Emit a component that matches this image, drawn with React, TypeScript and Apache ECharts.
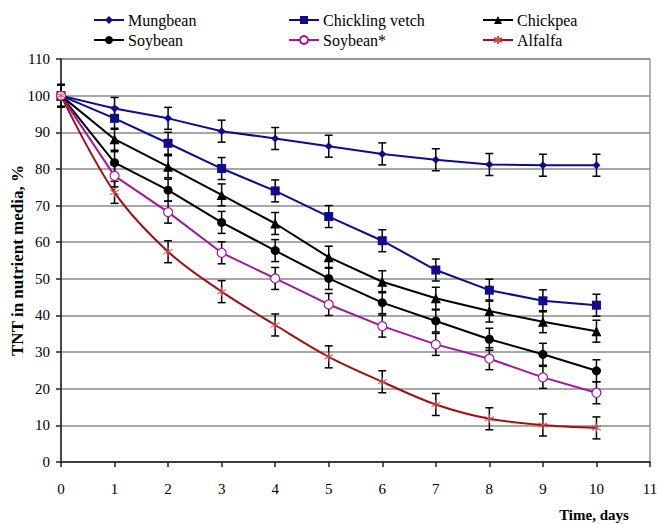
import React, { useEffect, useRef } from "react";
import * as echarts from "echarts";

const days = [0, 1, 2, 3, 4, 5, 6, 7, 8, 9, 10];
const xTicks = [0, 1, 2, 3, 4, 5, 6, 7, 8, 9, 10, 11];

const mungbean = [100, 96.5, 93.8, 90.3, 88.3, 86.2, 84.1, 82.5, 81.2, 81.0, 81.0];
const chicklingVetch = [100, 93.8, 87.0, 80.1, 74.0, 67.0, 60.4, 52.4, 46.9, 44.0, 42.8];
const chickpea = [100, 88.1, 80.6, 72.9, 65.1, 55.9, 49.2, 44.7, 41.2, 38.3, 35.7];
const soybean = [100, 81.7, 74.2, 65.4, 57.7, 50.1, 43.5, 38.5, 33.5, 29.4, 24.9];
const soybeanStar = [100, 78.1, 68.2, 57.1, 50.1, 43.0, 37.1, 32.1, 28.2, 23.1, 18.9];
const alfalfa = [100, 73.6, 57.4, 46.5, 37.4, 28.7, 21.9, 15.7, 11.8, 10.1, 9.3];

const errMungbean = [3, 3, 3, 3, 3, 3, 3, 3, 3, 3, 3];
const errChickling = [3, 3, 3, 3, 3, 3, 3, 3, 3, 3, 3];
const errChickpea = [3, 3, 3, 3, 3, 3, 3, 3, 3, 3, 3];
const errSoybean = [3, 3, 3, 3, 3, 3, 3, 3, 3, 3, 3];
const errSoybeanStar = [3, 3, 3, 3, 3, 3, 3, 3, 3, 3, 3];
const errAlfalfa = [3, 3, 3, 3, 3, 3, 3, 3, 3, 3, 3];

const NAVY = "#0c0c8c";
const BLACK = "#000000";
const PURPLE = "#a0189e";
const DARKRED = "#a01010";
const FONT = "'Liberation Serif', 'Times New Roman', serif";

const ASTERISK = "path://M0,-5L0,5M-4.3,-2.5L4.3,2.5M-4.3,2.5L4.3,-2.5";

export default function App() {
  const ref = useRef<HTMLDivElement>(null);

  useEffect(() => {
    document.body.style.margin = "0";
    const chart = echarts.init(ref.current!, null, { renderer: "svg" });

    const errSeries = (vals: number[], errs: number[]) => ({
      type: "custom",
      silent: true,
      z: 1,
      data: days.map((d, i) => [d, vals[i] - errs[i], vals[i] + errs[i]]),
      encode: { x: 0, y: [1, 2] },
      renderItem: (params: any, api: any) => {
        const x = api.value(0);
        const lo = api.coord([x, api.value(1)]);
        const hi = api.coord([x, api.value(2)]);
        const w = 4;
        const st = { stroke: "#000", lineWidth: 1.5 };
        return {
          type: "group",
          children: [
            { type: "line", shape: { x1: lo[0], y1: lo[1], x2: hi[0], y2: hi[1] }, style: st },
            { type: "line", shape: { x1: lo[0] - w, y1: lo[1], x2: lo[0] + w, y2: lo[1] }, style: st },
            { type: "line", shape: { x1: hi[0] - w, y1: hi[1], x2: hi[0] + w, y2: hi[1] }, style: st },
          ],
        };
      },
    });

    const lineSeries = (
      name: string,
      vals: number[],
      color: string,
      symbol: string,
      symbolSize: number,
      extra: any = {}
    ) => ({
      name,
      type: "line",
      z: 3,
      data: days.map((d, i) => [d, vals[i]]),
      symbol,
      symbolSize,
      lineStyle: { color, width: 2 },
      itemStyle: { color, borderColor: color, borderWidth: 0 },
      ...extra,
    });

    const legendCommon = {
      orient: "vertical",
      top: 12,
      padding: 0,
      itemWidth: 30,
      itemHeight: 10,
      itemGap: 4,
      selectedMode: false,
      textStyle: { fontFamily: FONT, fontSize: 16, color: "#000", padding: [0, 0, 0, -1] },
    };

    chart.setOption({
      animation: false,
      backgroundColor: "#fff",
      legend: [
        { ...legendCommon, left: 93, data: ["Mungbean", "Soybean"] },
        { ...legendCommon, left: 288, data: ["Chickling vetch", "Soybean*"] },
        { ...legendCommon, left: 482, data: ["Chickpea", "Alfalfa"] },
      ],
      grid: {
        left: 61,
        right: 7,
        top: 59,
        bottom: 62,
        show: true,
        borderColor: "#9a9a9a",
        borderWidth: 1.5,
        containLabel: false,
        outerBoundsMode: "none",
      },
      xAxis: {
        type: "value",
        min: 0,
        max: 11,
        interval: 1,
        axisLine: { lineStyle: { color: "#222", width: 1.5 } },
        axisTick: { show: true, length: 5, lineStyle: { color: "#222", width: 1.5 } },
        axisLabel: {
          margin: 19,
          fontFamily: FONT,
          fontSize: 15,
          color: "#000",
          formatter: (v: number) => (xTicks.includes(v) ? String(v) : ""),
        },
        splitLine: { show: false },
      },
      yAxis: {
        type: "value",
        min: 0,
        max: 110,
        interval: 10,
        name: "TNT in nutrient media, %",
        nameLocation: "middle",
        nameGap: 35,
        nameMoveOverlap: false,
        nameTextStyle: { fontFamily: FONT, fontSize: 17, fontWeight: "bold", color: "#000" },
        axisLine: { show: true, lineStyle: { color: "#222", width: 1.5 } },
        axisTick: { show: true, length: 5, lineStyle: { color: "#222", width: 1.5 } },
        axisLabel: { margin: 11, fontFamily: FONT, fontSize: 15, color: "#000" },
        splitLine: { show: true, lineStyle: { color: "#8a8a8a", width: 1.5 } },
      },
      graphic: [
        {
          type: "text",
          x: 594,
          y: 515,
          style: {
            text: "Time, days",
            fontFamily: FONT,
            fontSize: 15,
            fontWeight: "bold",
            fill: "#000",
            align: "center",
            verticalAlign: "middle",
          },
        },
      ],
      series: [
        errSeries(mungbean, errMungbean),
        errSeries(chicklingVetch, errChickling),
        errSeries(chickpea, errChickpea),
        errSeries(soybean, errSoybean),
        errSeries(soybeanStar, errSoybeanStar),
        errSeries(alfalfa, errAlfalfa),
        lineSeries("Mungbean", mungbean, NAVY, "diamond", 8),
        lineSeries("Chickling vetch", chicklingVetch, NAVY, "rect", 9),
        lineSeries("Chickpea", chickpea, BLACK, "triangle", 10),
        lineSeries("Soybean", soybean, BLACK, "circle", 9),
        lineSeries("Soybean*", soybeanStar, PURPLE, "circle", 9, {
          itemStyle: { color: "#fff", borderColor: PURPLE, borderWidth: 1.2 },
        }),
        lineSeries("Alfalfa", alfalfa, DARKRED, ASTERISK, 9, {
          smooth: 0.35,
          itemStyle: { color: "none", borderColor: "#d04848", borderWidth: 1 },
        }),
      ],
    });

    return () => chart.dispose();
  }, []);

  return <div ref={ref} style={{ width: 657, height: 524 }} />;
}
